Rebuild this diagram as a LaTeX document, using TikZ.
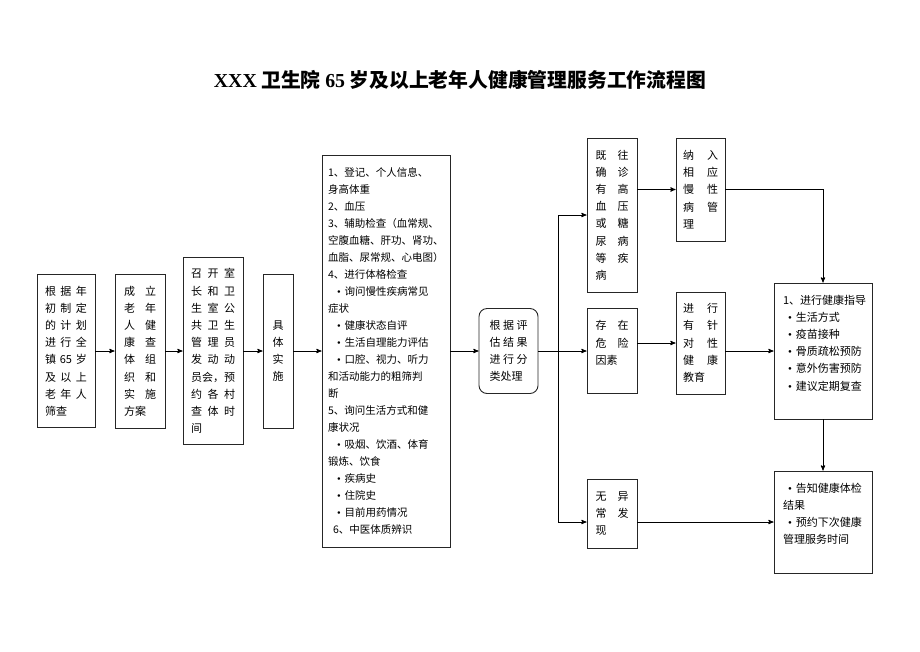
\documentclass[tikz,border=0pt]{standalone}
\usepackage{fontspec}
\setmainfont{Noto Sans CJK SC}
\newfontfamily\tnr{Liberation Serif}
\usepackage{tikz}
\usetikzlibrary{arrows}
\tikzset{
flow/.style={>=stealth',x=1pt,y=-1pt,line width=0.9pt},
cell/.style={draw=black!85,align=left,inner sep=0pt,
font=\fontsize{11pt}{17.2pt}\selectfont},
roundcell/.style={cell,rounded corners=8pt},
heading/.style={font=\fontsize{19.8pt}{22pt}\selectfont\bfseries},
}
\newcommand{\itm}[1][5pt]{\hspace*{#1}{\tnr\textbullet}\hspace{4pt}}

\begin{document}
\begin{tikzpicture}[flow]
\useasboundingbox (0,0) rectangle (920,651);
\node[heading] (title) at (460,80) {{\tnr XXX} 卫生院 {\tnr 65} 岁及以上老年人健康管理服务工作流程图};

% left chain
\node[cell,text width=42pt,minimum width=58pt,minimum height=153pt] (plan) at (66,351)
  {根\hfill 据\hfill 年\\初\hfill 制\hfill 定\\的\hfill 计\hfill 划\\进\hfill 行\hfill 全\\镇\hfill 65\hfill 岁\\及\hfill 以\hfill 上\\老\hfill 年\hfill 人\\筛查};
\node[cell,text width=32pt,minimum width=50pt,minimum height=154pt] (team) at (140,351)
  {成\hfill 立\\老\hfill 年\\人\hfill 健\\康\hfill 查\\体\hfill 组\\织\hfill 和\\实\hfill 施\\方案};
\node[cell,text width=44pt,minimum width=60pt,minimum height=187pt] (meet) at (213,351)
  {召\hfill 开\hfill 室\\长\hfill 和\hfill 卫\\生\hfill 室\hfill 公\\共\hfill 卫\hfill 生\\管\hfill 理\hfill 员\\发\hfill 动\hfill 动\\员会，预\\约\hfill 各\hfill 村\\查\hfill 体\hfill 时\\间};
\node[cell,align=center,minimum width=30pt,minimum height=154pt] (do) at (278,351)
  {具\\体\\实\\施};
\node[cell,text width=116pt,minimum width=128pt,minimum height=392pt,
  font=\fontsize{10.5pt}{17pt}\selectfont] (exam) at (386,351)
  {1、登记、个人信息、\\身高体重\\2、血压\\3、辅助检查（血常规、\\空腹血糖、肝功、肾功、\\血脂、尿常规、心电图）\\4、进行体格检查\\
   \itm[9pt]询问慢性疾病常见\\症状\\\itm[9pt]健康状态自评\\\itm[9pt]生活自理能力评估\\\itm[9pt]口腔、视力、听力\\和活动能力的粗筛判\\断\\
   5、询问生活方式和健\\康状况\\\itm[9pt]吸烟、饮酒、体育\\锻炼、饮食\\\itm[9pt]疾病史\\\itm[9pt]住院史\\\itm[9pt]目前用药情况\\\hspace*{5pt}6、中医体质辨识};
\node[roundcell,text width=38pt,minimum width=59pt,minimum height=85pt] (sort) at (508.5,351)
  {根\hfill 据\hfill 评\\估\hfill 结\hfill 果\\进\hfill 行\hfill 分\\类处理};

% three groups
\node[cell,text width=33pt,minimum width=50pt,minimum height=154pt] (ill) at (612,215)
  {既\hfill 往\\确\hfill 诊\\有\hfill 高\\血\hfill 压\\或\hfill 糖\\尿\hfill 病\\等\hfill 疾\\病};
\node[cell,text width=33pt,minimum width=50pt,minimum height=85pt] (risk) at (612,351)
  {存\hfill 在\\危\hfill 险\\因素\\~};
\node[cell,text width=33pt,minimum width=50pt,minimum height=69pt] (ok) at (612,513.5)
  {无\hfill 异\\常\hfill 发\\现};
\node[cell,text width=35pt,minimum width=49pt,minimum height=103pt] (chronic) at (700.5,189.5)
  {纳\hfill 入\\相\hfill 应\\慢\hfill 性\\病\hfill 管\\理};
\node[cell,text width=35pt,minimum width=49pt,minimum height=102pt] (edu) at (700.5,343)
  {进\hfill 行\\有\hfill 针\\对\hfill 性\\健\hfill 康\\教育};
\node[cell,text width=80pt,minimum width=98pt,minimum height=136pt] (guide) at (823,351)
  {1、进行健康指导\\\itm 生活方式\\\itm 疫苗接种\\\itm 骨质疏松预防\\\itm 意外伤害预防\\\itm 建议定期复查\\~};
\node[cell,text width=80pt,minimum width=98pt,minimum height=102pt] (next) at (823,522)
  {\itm 告知健康体检\\结果\\\itm 预约下次健康\\管理服务时间\\~};

\coordinate (split) at (558,351);

\draw[->] (plan) -- (team);
\draw[->] (team) -- (meet);
\draw[->] (meet) -- (do);
\draw[->] (do) -- (exam);
\draw[->] (exam) -- (sort);
\draw[->] (sort) -- (risk);
\draw[->] (split) |- (ill);
\draw[->] (split) |- ([yshift=-8.5pt]ok.west);
\draw[->] (ill.east |- chronic) -- (chronic);
\draw[->] (risk.east |- edu) -- (edu);
\draw[->] (chronic) -| (guide);
\draw[->] (edu.east |- guide) -- (guide);
\draw[->] (guide) -- (next);
\draw[->] ([yshift=-8.5pt]ok.east) -- (next.west);
\end{tikzpicture}
\end{document}
